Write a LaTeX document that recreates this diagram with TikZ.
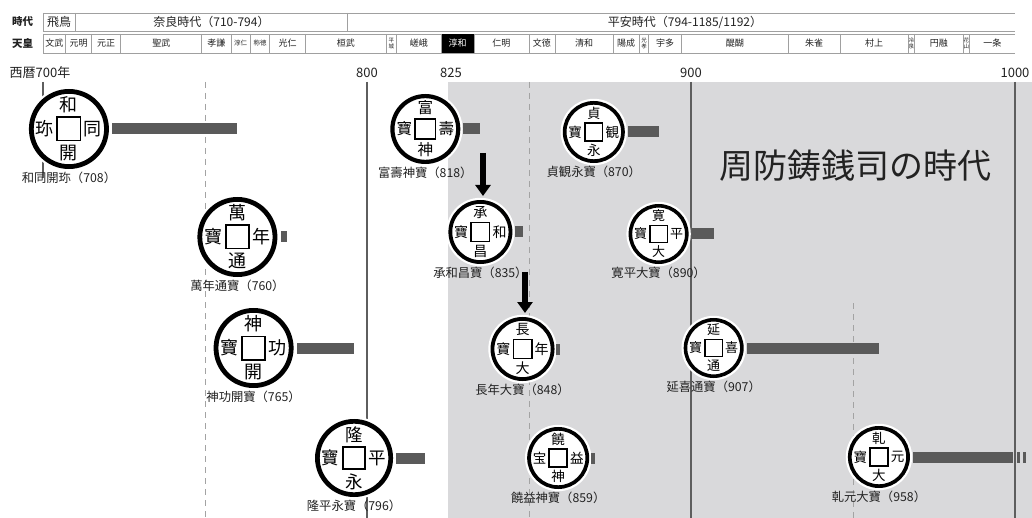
\documentclass[tikz,border=0pt]{standalone}
\usepackage{fontspec}
\setmainfont{Noto Sans CJK JP}
\usetikzlibrary{arrows.meta,positioning,calc}

\definecolor{shadecol}{HTML}{D9D9DB}
\definecolor{barcol}{HTML}{5A5A5A}
\definecolor{rulecol}{HTML}{A0A0A0}
\definecolor{ylcol}{HTML}{5E5E5E}
\definecolor{dashcol}{HTML}{A3A3A3}
\definecolor{ink}{HTML}{222222}

% x position of a year on the time axis
\newcommand\yx[1]{\fpeval{43+(#1-700)*3.24}}

% coin: name, year, y, outer radius, top, right, bottom, left, caption
\newcommand\coin[9]{%
  \pgfmathsetmacro\cx{43+(#2-700)*3.24}%
  \pgfmathsetmacro\cw{0.12*#4}%
  \pgfmathsetmacro\cd{2*#4-\cw}%
  \pgfmathsetmacro\cf{0.5*#4-2}%
  \pgfmathsetmacro\co{0.6*#4}%
  \pgfmathsetmacro\ch{0.58*#4}%
  \pgfmathsetmacro\cr{#4+2.2}%
  \pgfmathsetmacro\hw{0.045*#4}%
  \fill[white] (\cx,#3) circle[radius=\cr pt];
  \node[circle, draw=black, fill=white, line width=\cw pt, minimum size=\cd pt, inner sep=0pt] (#1) at (\cx,#3) {};
  \node[draw=black, fill=white, line width=\hw pt, minimum size=\ch pt, inner sep=0pt] (#1-hole) at (#1) {};
  \node[coinchar, font=\fontsize{\cf}{\cf}\selectfont, yshift=\co pt] at (#1) {#5};
  \node[coinchar, font=\fontsize{\cf}{\cf}\selectfont, xshift=\co pt] at (#1) {#6};
  \node[coinchar, font=\fontsize{\cf}{\cf}\selectfont, yshift=-\co pt] at (#1) {#7};
  \node[coinchar, font=\fontsize{\cf}{\cf}\selectfont, xshift=-\co pt] at (#1) {#8};
  \node[coinlabel, below=2pt of #1] (#1-label) {#9};
}
% circulation bar from a coin to a given x position (gap after the rim)
\newcommand\coinbar[3][3pt]{%
  \fill[barcol] ($(#2.east)+(#1,5.5pt)$) rectangle ($(#2.east -| #3,0)+(0,-5.5pt)$);
}

\begin{document}
\begin{tikzpicture}[x=1pt,y=-1pt,
  coinchar/.style={inner sep=0pt, text=black},
  coinlabel/.style={inner sep=1pt, text=ink, font=\fontsize{12.3}{14}\selectfont},
  yearlab/.style={font=\fontsize{13}{15}\selectfont, text=ink, inner sep=0pt},
  yearline/.style={draw=ylcol, line width=1.4pt},
  yeardash/.style={draw=dashcol, line width=1pt, dash pattern=on 6pt off 5pt},
  hline/.style={draw=rulecol, line width=0.8pt},
  headlab/.style={font=\bfseries\fontsize{10.5}{12}\selectfont, text=ink, inner sep=0pt},
  eratext/.style={font=\fontsize{12}{14}\selectfont, text=ink, inner sep=0pt},
  cell-n/.style={font=\fontsize{9}{10}\selectfont, text=ink, inner sep=0pt},
  cell-s/.style={font=\fontsize{6.5}{7}\selectfont, text=ink, inner sep=0pt},
  cell-v/.style={font=\fontsize{5.5}{6}\selectfont, text=ink, inner sep=0pt, align=center},
  cell-k/.style={font=\fontsize{9}{10}\selectfont, text=white, inner sep=0pt},
  bigarrow/.style={draw=black, line width=5.5pt, -{Triangle[width=15pt,length=11pt]}},
]
\useasboundingbox (0,0) rectangle (1032,518);
\fill[white] (0,0) rectangle (1032,518);

% Heian mint period background
\fill[shadecol] (448,82) rectangle (1032,518);

% ---- header table ----
\node[headlab, anchor=west] (hera) at (12,22) {時代};
\node[headlab, anchor=west] (hemp) at (12,43.5) {天皇};
\draw[hline] (43,13) -- (1015,13);
\draw[hline] (43,31) -- (1015,31);
\draw[hline] (43,34) -- (1015,34);
\draw[hline] (43,53) -- (1015,53);
\foreach \b in {700,710,794} \draw[hline] (\yx{\b},13) -- (\yx{\b},31);
\node[eratext] (asuka) at ({(\yx{700}+\yx{710})/2},22) {飛鳥};
\node[eratext] (nara) at ({(\yx{710}+\yx{794})/2},22) {奈良時代（710-794）};
\node[eratext] (heian) at (685,22) {平安時代（794-1185/1192）};

\fill[black] (\yx{823},34.4) rectangle (\yx{833},52.6);
\foreach \b in {700,707,715,724,749,758,764,770,781,806,809,823,833,850,858,876,884,887,897,930,946,967,969,984,986}
  \draw[hline] (\yx{\b},34) -- (\yx{\b},53);
\foreach \a/\b/\t/\s [count=\i] in {
  700/707/文武/n, 707/715/元明/n, 715/724/元正/n, 724/749/聖武/n,
  749/758/孝謙/n, 758/764/淳仁/s, 764/770/称徳/s, 770/781/光仁/n,
  781/806/桓武/n, 806/809/{平\\城}/v, 809/823/嵯峨/n, 823/833/淳和/k,
  833/850/仁明/n, 850/858/文徳/n, 858/876/清和/n, 876/884/陽成/n,
  884/887/{光\\孝}/v, 887/897/宇多/n, 897/930/醍醐/n, 930/946/朱雀/n,
  946/967/村上/n, 967/969/{冷\\泉}/v, 969/984/円融/n, 984/986/{花\\山}/v,
  986/1000/一条/n}
  \node[cell-\s] (emp\i) at ({(\yx{\a}+\yx{\b})/2},43.5) {\t};

% ---- time axis ----
\node[yearlab] (y700) at (40,73) {西暦700年};
\node[yearlab] (y800) at (367,73) {800};
\node[yearlab] (y825) at (451,73) {825};
\node[yearlab] (y900) at (691,73) {900};
\node[yearlab] (y1000) at (1015,73) {1000};

\draw[yearline] (\yx{700},82) -- (\yx{700},178);
\draw[yearline] (\yx{800},82) -- (\yx{800},518);
\draw[yearline] (\yx{900},82) -- (\yx{900},518);
\draw[yearline] (\yx{1000},82) -- (\yx{1000},518);
\draw[yeardash] (\yx{750},82) -- (\yx{750},518);
\draw[yeardash] (\yx{850},82) -- (\yx{850},518);
\draw[yeardash] (\yx{950},303) -- (\yx{950},518);

\node[font=\fontsize{34}{38}\selectfont, text=ink, inner sep=0pt] (title) at (855,166) {周防鋳銭司の時代};

% ---- coins ----
\coin{wado}{708}{129}{40}{和}{同}{開}{珎}{和同開珎（708）}
\coin{mannen}{760}{237}{40}{萬}{年}{通}{寶}{萬年通寶（760）}
\coin{jingu}{765}{348}{40}{神}{功}{開}{寶}{神功開寶（765）}
\coin{ryuhei}{796}{458}{39}{隆}{平}{永}{寶}{隆平永寶（796）}
\coin{fuju}{818}{129}{35}{富}{壽}{神}{寶}{富壽神寶（818）}
\coin{jowa}{835}{232}{32}{承}{和}{昌}{寶}{承和昌寶（835）}
\coin{chonen}{848}{349}{32}{長}{年}{大}{寶}{長年大寶（848）}
\coin{nyoyaku}{859}{458}{31}{饒}{益}{神}{宝}{饒益神寶（859）}
\coin{jogan}{870}{132}{31}{貞}{観}{永}{寶}{貞観永寶（870）}
\coin{kanpyo}{890}{234}{30}{寛}{平}{大}{寶}{寛平大寶（890）}
\coin{engi}{907}{348}{30}{延}{喜}{通}{寶}{延喜通寶（907）}
\coin{kengen}{958}{457}{31}{乹}{元}{大}{寶}{乹元大寶（958）}

% ---- circulation bars ----
\coinbar{wado}{\yx{760}}
\coinbar[4pt]{mannen}{287}
\coinbar{jingu}{\yx{796}}
\coinbar{ryuhei}{\yx{818}}
\coinbar{fuju}{\yx{835}}
\coinbar{jowa}{\yx{848}}
\coinbar[1pt]{chonen}{560}
\coinbar[2pt]{nyoyaku}{595}
\coinbar{jogan}{\yx{890}}
\coinbar{kanpyo}{\yx{907}}
\coinbar{engi}{\yx{958}}
\coinbar{kengen}{1013}
\fill[barcol] ($(kengen.east -| 1017,0)+(0,-5.5pt)$) rectangle ($(kengen.east -| 1020,0)+(0,5.5pt)$);
\fill[barcol] ($(kengen.east -| 1023,0)+(0,-5.5pt)$) rectangle ($(kengen.east -| 1026,0)+(0,5.5pt)$);

% ---- mint succession arrows ----
\coordinate (arr1) at (483,153);
\coordinate (arr2) at (525,272);
\draw[bigarrow, shorten >=4pt] (arr1) -- (arr1 |- jowa.north);
\draw[bigarrow, shorten >=4pt] (arr2) -- (arr2 |- chonen.north);
\end{tikzpicture}
\end{document}
